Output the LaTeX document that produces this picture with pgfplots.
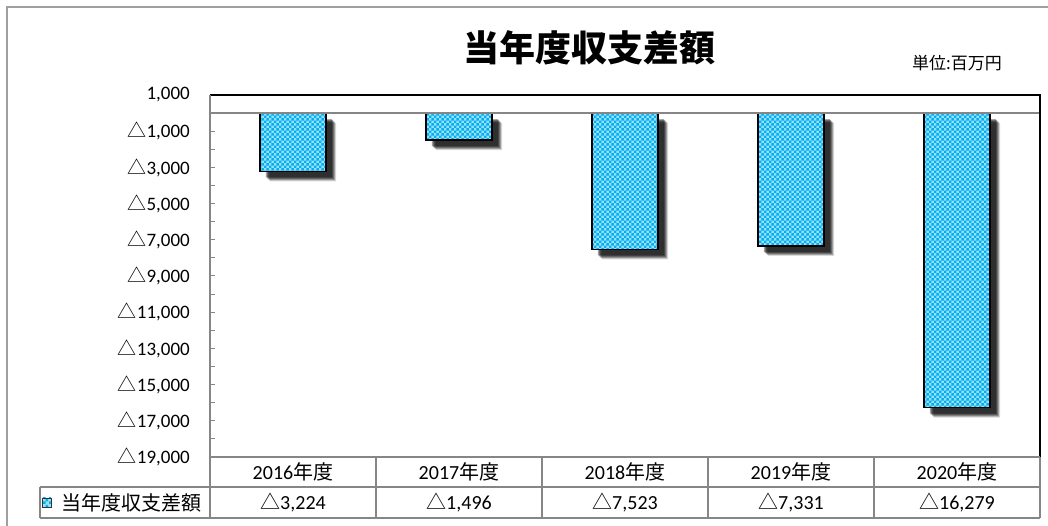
\documentclass[border=0pt]{standalone}
\usepackage{pgfplots}
\pgfplotsset{compat=1.18}
\usepackage{fontspec}
\setmainfont{Carlito}
\newfontfamily\cjk{Noto Sans CJK JP}
\usetikzlibrary{patterns,shadows}
\definecolor{xlblue}{RGB}{0,176,240}
\definecolor{gridgray}{RGB}{134,134,134}
\pgfdeclarepatternformonly{checks}{\pgfpointorigin}{\pgfqpoint{5.4pt}{5.4pt}}{\pgfqpoint{5.4pt}{5.4pt}}{%
  \pgfpathrectangle{\pgfpointorigin}{\pgfqpoint{2.7pt}{2.7pt}}%
  \pgfpathrectangle{\pgfqpoint{2.7pt}{2.7pt}}{\pgfqpoint{2.7pt}{2.7pt}}%
  \pgfusepath{fill}}
\newcommand{\tri}{{\cjk △}}
\newcommand{\nendo}{{\cjk 年度}}
\begin{document}
\begin{tikzpicture}
\useasboundingbox (0pt,0pt) rectangle (1048pt,526pt);
\fill[white] (0pt,0pt) rectangle (1048pt,526pt);
\draw[gray!75, line width=2pt] (7pt,-5pt) -- (7pt,519pt) -- (1060pt,519pt);
\node[font=\cjk\bfseries\fontsize{36}{40}\selectfont] at (589pt,478pt) {当年度収支差額};
\node[font=\cjk\fontsize{17}{20}\selectfont] at (957pt,463pt) {単位:百万円};
\begin{axis}[
  at={(210pt,69pt)}, anchor=south west,
  width=830pt, height=362pt, scale only axis,
  xmin=-0.5, xmax=4.5, ymin=-19000, ymax=1000,
  clip=false,
  axis line style={draw=none},
  xtick={0,1,2,3,4},
  xticklabels={2016\nendo,2017\nendo,2018\nendo,2019\nendo,2020\nendo},
  xtick style={draw=none},
  xticklabel style={anchor=center, yshift=-15pt, font=\fontsize{20}{24}\selectfont},
  scaled y ticks=false,
  ytick={1000,-1000,-3000,-5000,-7000,-9000,-11000,-13000,-15000,-17000,-19000},
  yticklabels={{1,000},{\tri1,000},{\tri3,000},{\tri5,000},{\tri7,000},{\tri9,000},{\tri11,000},{\tri13,000},{\tri15,000},{\tri17,000},{\tri19,000}},
  yticklabel style={anchor=east, inner sep=0pt, xshift=-20pt, font=\fontsize{19}{22}\selectfont},
  /pgf/number format/assume math mode=true,
  ytick pos=left,
  minor y tick num=1,
  tick align=inside,
  major tick length=5pt, minor tick length=5pt,
  ytick style={gridgray, line width=1pt},
  minor tick style={gridgray, line width=1pt},
]
\addplot[ybar, bar width=0.4, draw=black, line width=1.5pt,
  drop shadow={shadow xshift=10pt, shadow yshift=-10pt, fill=black, draw=none, opacity=0.15},
  drop shadow={shadow xshift=9pt, shadow yshift=-9pt, fill=black, draw=none, opacity=0.25},
  drop shadow={shadow xshift=8pt, shadow yshift=-8pt, fill=black, draw=none, opacity=0.3},
  drop shadow={shadow xshift=7pt, shadow yshift=-7pt, fill=black, draw=none, opacity=0.35},
  drop shadow={shadow xshift=6pt, shadow yshift=-6pt, fill=black, draw=none, opacity=0.35},
  preaction={fill=xlblue!40}, pattern=checks, pattern color=xlblue]
  coordinates {(0,-3224) (1,-1496) (2,-7523) (3,-7331) (4,-16279)};
\draw[gridgray, line width=1.5pt] (axis cs:-0.5,0) -- (axis cs:4.5,0);
\end{axis}
% plot area frame
\draw[black, line width=1.5pt] (210pt,431pt) -- (1040pt,431pt) -- (1040pt,69pt);
\draw[gridgray, line width=1.5pt] (210pt,431pt) -- (210pt,8pt);
% data table
\draw[gridgray, line width=1.2pt] (210pt,69pt) -- (1040pt,69pt);
\draw[gridgray, line width=1.2pt] (40pt,39pt) -- (1040pt,39pt);
\draw[gridgray, line width=1.2pt] (40pt,8pt) -- (1040pt,8pt);
\draw[gridgray, line width=1.2pt] (40pt,8pt) -- (40pt,39pt);
\foreach \xx in {376,542,708,874,1040} {\draw[gridgray, line width=1.2pt] (\xx pt,8pt) -- (\xx pt,69pt);}
% legend key
\draw[black!80, line width=0.8pt, preaction={fill=xlblue!40}, pattern=checks, pattern color=xlblue] (42pt,19pt) rectangle (51pt,28pt);
\node[anchor=west, font=\cjk\fontsize{20}{24}\selectfont] at (58pt,23.5pt) {当年度収支差額};
\node[font=\fontsize{20}{24}\selectfont] at (293pt,23.5pt) {\tri3,224};
\node[font=\fontsize{20}{24}\selectfont] at (459pt,23.5pt) {\tri1,496};
\node[font=\fontsize{20}{24}\selectfont] at (625pt,23.5pt) {\tri7,523};
\node[font=\fontsize{20}{24}\selectfont] at (791pt,23.5pt) {\tri7,331};
\node[font=\fontsize{20}{24}\selectfont] at (957pt,23.5pt) {\tri16,279};
\end{tikzpicture}
\end{document}
